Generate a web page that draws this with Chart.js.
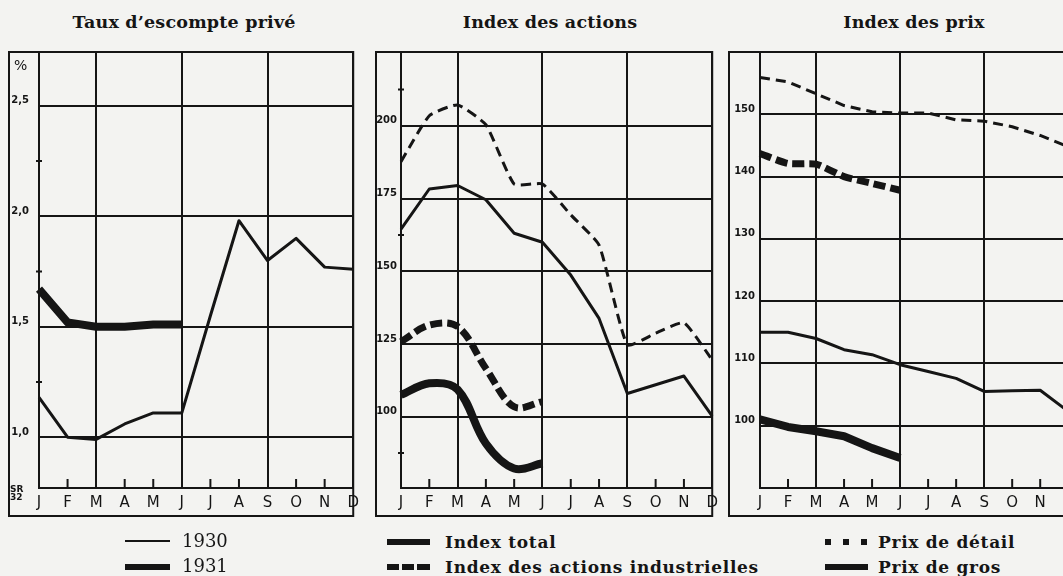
<!DOCTYPE html>
<html>
<head>
<meta charset="utf-8">
<script src="https://cdn.jsdelivr.net/npm/chart.js@4.4.1/dist/chart.umd.min.js"></script>
<style>
  html, body { margin: 0; padding: 0; }
  body { width: 1063px; height: 576px; overflow: hidden; background: #f3f3f1; position: relative; font-family: "DejaVu Serif", serif; color: #151515; }
  canvas { position: absolute; }
  .title { position: absolute; top: 12px; font-weight: bold; font-size: 17.5px; white-space: nowrap; transform: translateX(-50%); letter-spacing: 0.2px; }
  .leg { position: absolute; font-size: 18px; white-space: nowrap; line-height: 20px; }
  .leg.b { font-weight: bold; font-size: 17px; letter-spacing: 0.7px; }
  .sw { position: absolute; background: #151515; }
  .note { position: absolute; font-family: "DejaVu Sans", sans-serif; font-size: 9px; line-height: 8px; font-weight: bold; }
</style>
</head>
<body>
<div class="title" style="left:184px">Taux d’escompte privé</div>
<div class="title" style="left:550px">Index des actions</div>
<div class="title" style="left:914px">Index des prix</div>

<canvas id="escompteChart" width="357" height="466" style="left:8px;top:51px"></canvas>
<canvas id="actionsChart" width="349" height="466" style="left:375px;top:51px"></canvas>
<canvas id="prixChart" width="352" height="466" style="left:728px;top:51px"></canvas>

<div class="note" style="left:14px;top:58px;font-size:14px;line-height:14px;font-weight:normal">%</div>
<div class="note" style="left:10px;top:485px">SR<br>32</div>

<!-- legend -->
<div class="sw" style="left:125px;top:540px;width:45px;height:2px"></div>
<div class="leg" style="left:182px;top:531px">1930</div>
<div class="sw" style="left:125px;top:564px;width:45px;height:6px"></div>
<div class="leg" style="left:182px;top:556px">1931</div>

<div class="sw" style="left:387px;top:539px;width:43px;height:6px"></div>
<div class="leg b" style="left:445px;top:532px">Index total</div>
<div class="sw" style="left:387px;top:564px;width:12px;height:6px"></div>
<div class="sw" style="left:402px;top:564px;width:12px;height:6px"></div>
<div class="sw" style="left:417px;top:564px;width:13px;height:6px"></div>
<div class="leg b" style="left:445px;top:557px">Index des actions industrielles</div>

<div class="sw" style="left:825px;top:539px;width:6px;height:6px"></div>
<div class="sw" style="left:843px;top:539px;width:6px;height:6px"></div>
<div class="sw" style="left:861px;top:539px;width:6px;height:6px"></div>
<div class="leg b" style="left:878px;top:532px">Prix de détail</div>
<div class="sw" style="left:825px;top:564px;width:43px;height:6px"></div>
<div class="leg b" style="left:878px;top:557px">Prix de gros</div>

<script>
const ink = '#151515';

const months = ['J', 'F', 'M', 'A', 'M', 'J', 'J', 'A', 'S', 'O', 'N', 'D'];
const gridMonths = [0, 2, 5, 8, 11];

// Taux d'escompte privé (%)
const escompte1930 = [1.18, 1.0, 0.99, 1.06, 1.11, 1.11, 1.55, 1.98, 1.80, 1.90, 1.77, 1.76];
const escompte1931 = [1.67, 1.52, 1.50, 1.50, 1.51, 1.51];
const escompteTicks = [1.0, 1.5, 2.0, 2.5];
const escompteMinor = [1.25, 1.75, 2.25];

// Index des actions
const indexTotal1930 = [164.5, 178.3, 179.5, 174.6, 163.1, 160.0, 148.7, 133.8, 108.0, 111.0, 114.0, 100.2];
const indexTotal1931 = [107.5, 111.5, 109.4, 90.8, 82.2, 84.0];
const actionsInd1930 = [187.7, 203.5, 207.2, 200.4, 180.0, 180.0, 169.4, 159.0, 124.7, 128.7, 132.3, 119.5];
const actionsInd1931 = [125.8, 131.5, 131.0, 116.6, 103.4, 105.2];
const actionsTicks = [100, 125, 150, 175, 200];
const actionsMinor = [87.5, 162.5, 212.5];

// Index des prix
const prixDetail1930 = [155.9, 155.2, 153.3, 151.4, 150.4, 150.2, 150.2, 149.1, 148.9, 148.0, 146.6, 144.8];
const prixDetail1931 = [143.7, 142.1, 142.0, 140.0, 138.9, 137.8];
const prixGros1930 = [115.0, 115.0, 114.0, 112.2, 111.4, 109.8, 108.7, 107.6, 105.5, 105.6, 105.7, 102.3];
const prixGros1931 = [101.0, 99.8, 99.1, 98.3, 96.4, 94.8];
const prixTicks = [100, 110, 120, 130, 140, 150];

// frame around each panel + small month ticks + small marks on the value axis
const framePlugin = {
    id: 'frame',
    afterDraw(chart, args, opts) {
        const ctx = chart.ctx;
        const a = chart.chartArea;
        const x = chart.scales.x;
        const y = chart.scales.y;
        ctx.save();
        ctx.strokeStyle = ink;
        ctx.lineWidth = 2;
        ctx.strokeRect(1, a.top, a.right - 1, chart.height - 1 - a.top);
        ctx.beginPath();
        months.forEach((m, i) => {
            if (gridMonths.includes(i)) return;
            const px = x.getPixelForValue(i);
            ctx.moveTo(px, a.bottom);
            ctx.lineTo(px, a.bottom - 9);
        });
        (opts.minor || []).forEach(v => {
            const py = y.getPixelForValue(v);
            ctx.moveTo(a.left - 3, py);
            ctx.lineTo(a.left + 3, py);
        });
        ctx.stroke();
        ctx.restore();
    }
};

function line(data, width, dash, tension) {
    return {
        data: data,
        borderColor: ink,
        borderWidth: width,
        borderDash: dash || [],
        borderCapStyle: 'butt',
        borderJoinStyle: 'round',
        pointRadius: 0,
        tension: tension || 0,
        fill: false
    };
}

function makePanel(id, datasets, yMin, yMax, yTicks, yWidth, minor, fmt, labelPad) {
    return new Chart(document.getElementById(id), {
        type: 'line',
        data: { labels: months, datasets: datasets },
        plugins: [framePlugin],
        options: {
            responsive: false,
            animation: false,
            layout: { padding: { top: 1, right: 8, bottom: 0, left: 0 } },
            plugins: {
                legend: { display: false },
                tooltip: { enabled: false },
                frame: { minor: minor }
            },
            scales: {
                x: {
                    type: 'category',
                    offset: false,
                    afterFit: scale => { scale.height = 29; },
                    border: { display: true, color: ink, width: 2 },
                    grid: {
                        drawTicks: false,
                        lineWidth: 2,
                        color: c => gridMonths.includes(c.index) ? ink : 'rgba(0,0,0,0)'
                    },
                    ticks: {
                        autoSkip: false,
                        maxRotation: 0,
                        padding: 6,
                        color: ink,
                        font: { family: 'DejaVu Sans', size: 15 }
                    }
                },
                y: {
                    min: yMin,
                    max: yMax,
                    afterFit: scale => {
                        scale.width = yWidth;
                        scale.paddingTop = 0;
                        scale.paddingBottom = 0;
                    },
                    afterBuildTicks: axis => { axis.ticks = yTicks.map(v => ({ value: v })); },
                    border: { display: true, color: ink, width: 2 },
                    grid: { drawTicks: false, lineWidth: 2, color: ink },
                    ticks: {
                        padding: labelPad,
                        labelOffset: -5,
                        color: ink,
                        font: { family: 'DejaVu Sans', size: 10, weight: 'bold' },
                        callback: fmt
                    }
                }
            }
        }
    });
}

makePanel('escompteChart', [
    line(escompte1930, 3),
    line(escompte1931, 8)
], 0.77, 2.744, escompteTicks, 31, escompteMinor, v => v.toFixed(1).replace('.', ','), 10);

makePanel('actionsChart', [
    line(indexTotal1930, 3),
    line(actionsInd1930, 3, [10, 6], 0.15),
    line(indexTotal1931, 8, [], 0.35),
    line(actionsInd1931, 7, [12, 5], 0.35)
], 75.5, 225.4, actionsTicks, 26, actionsMinor, v => String(v), 4);

makePanel('prixChart', [
    line(prixDetail1930, 3, [10, 6]),
    line(prixGros1930, 3),
    line(prixDetail1931, 7, [12, 5], 0.2),
    line(prixGros1931, 8)
], 90, 160, prixTicks, 32, [], v => String(v), 5);
</script>
</body>
</html>
